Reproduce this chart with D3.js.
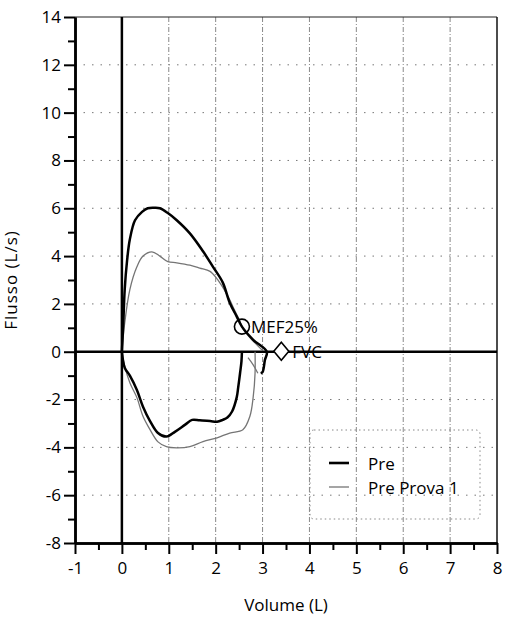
<!DOCTYPE html>
<html>
<head>
<meta charset="utf-8">
<script src="https://cdn.jsdelivr.net/npm/d3@7"></script>
<style>
  body { margin: 0; background: #fff; }
  svg { font-family: "Open Sans", "DejaVu Sans", sans-serif; }
</style>
</head>
<body>
<svg id="chart" width="505" height="619"></svg>
<script>
// tick values
const xMajor = [-1, 0, 1, 2, 3, 4, 5, 6, 7, 8];
const xMinor = [-0.5, 0.5, 1.5, 2.5, 3.5, 4.5, 5.5, 6.5, 7.5];
const yMajor = [-8, -6, -4, -2, 0, 2, 4, 6, 8, 10, 12, 14];
const yMinor = [-7, -5, -3, -1, 1, 3, 5, 7, 9, 11, 13];

// Pre: [volume, flusso]
const preExp = [
  [0, 0], [0.03, 1.2], [0.06, 2.6], [0.11, 3.8], [0.17, 4.7], [0.28, 5.5], [0.43, 5.85],
  [0.55, 6.0], [0.7, 6.02], [0.81, 6.0], [0.98, 5.8], [1.17, 5.5], [1.45, 4.95],
  [1.73, 4.2], [1.94, 3.56], [2.15, 2.9], [2.3, 2.05], [2.45, 1.47], [2.56, 1.05],
  [2.8, 0.5], [3.09, 0.0], [3.05, -0.35], [3.0, -0.85], [2.96, -0.9]
];
const preInsp = [
  [2.56, 0], [2.55, -0.4], [2.52, -0.9], [2.48, -1.5], [2.45, -1.9], [2.35, -2.5],
  [2.25, -2.75], [2.15, -2.85], [2.03, -2.93], [1.88, -2.9], [1.66, -2.87], [1.5, -2.85],
  [1.35, -3.05], [1.13, -3.35], [0.95, -3.55], [0.77, -3.4], [0.6, -2.9], [0.45, -2.3],
  [0.32, -1.6], [0.17, -1.0], [0.06, -0.67], [0, 0]
];

// Pre Prova 1
const provaExp = [
  [0, 0], [0.06, 1.2], [0.17, 2.6], [0.32, 3.55], [0.45, 4.0], [0.64, 4.18], [0.81, 4.0],
  [0.98, 3.77], [1.17, 3.72], [1.45, 3.62], [1.66, 3.5], [1.88, 3.36], [2.03, 3.05],
  [2.15, 2.7], [2.3, 2.17], [2.4, 1.75], [2.5, 1.35], [2.6, 0.9], [2.8, 0.45], [3.0, 0.05]
];
const provaInsp = [
  [2.84, 0], [2.84, -0.9], [2.8, -1.9], [2.73, -2.7], [2.58, -3.26], [2.3, -3.4],
  [2.03, -3.6], [1.73, -3.76], [1.45, -3.97], [1.17, -4.02], [0.95, -3.97], [0.77, -3.77],
  [0.6, -3.26], [0.45, -2.7], [0.32, -1.92], [0.17, -1.3], [0.06, -0.6], [0, 0]
];
const provaHook = [[2.69, -0.25], [2.8, -0.55], [2.9, -0.9]];

const mef25 = [2.56, 1.05];
const fvc = [3.4, 0.02];

const svg = d3.select("#chart");
const pLeft = 75, pRight = 497, pTop = 17, pBottom = 543;

const x = d3.scaleLinear().domain([-1, 8]).range([pLeft, pRight]);
const y = d3.scaleLinear().domain([-8, 14]).range([pBottom, pTop]);

// griglia
svg.append("g").selectAll("line")
  .data(xMajor.filter(d => d > 0 && d < 8))
  .enter().append("line")
  .attr("x1", d => x(d)).attr("x2", d => x(d))
  .attr("y1", pTop).attr("y2", pBottom)
  .attr("stroke", "#888").attr("stroke-width", 1)
  .attr("stroke-dasharray", "5,2,1,2");

svg.append("g").selectAll("line")
  .data(yMajor.filter(d => d !== 0 && d > -8 && d < 14))
  .enter().append("line")
  .attr("x1", pLeft).attr("x2", pRight)
  .attr("y1", d => y(d)).attr("y2", d => y(d))
  .attr("stroke", "#777").attr("stroke-width", 1)
  .attr("stroke-dasharray", "1.5,7");

// bordo superiore e destro
svg.append("line").attr("x1", pLeft).attr("x2", pRight).attr("y1", pTop).attr("y2", pTop)
  .attr("stroke", "#222").attr("stroke-width", 1.2);
svg.append("line").attr("x1", pRight).attr("x2", pRight).attr("y1", pTop).attr("y2", pBottom)
  .attr("stroke", "#111").attr("stroke-width", 1.5);

// linee dello zero
svg.append("line").attr("x1", x(0)).attr("x2", x(0)).attr("y1", pTop).attr("y2", pBottom)
  .attr("stroke", "#000").attr("stroke-width", 2.5);
svg.append("line").attr("x1", pLeft).attr("x2", pRight).attr("y1", y(0)).attr("y2", y(0))
  .attr("stroke", "#000").attr("stroke-width", 2.5);

// assi
const fmt = d => String(d);
svg.append("g").attr("transform", `translate(${pLeft},0)`)
  .call(d3.axisLeft(y).tickValues(yMajor).tickSize(11).tickSizeOuter(0).tickPadding(3).tickFormat(fmt));
svg.append("g").attr("transform", `translate(${pLeft},0)`)
  .call(d3.axisLeft(y).tickValues(yMinor).tickSize(7).tickSizeOuter(0).tickFormat(""));
svg.append("g").attr("transform", `translate(0,${pBottom})`)
  .call(d3.axisBottom(x).tickValues(xMajor).tickSize(11).tickSizeOuter(0).tickPadding(8).tickFormat(fmt));
svg.append("g").attr("transform", `translate(0,${pBottom})`)
  .call(d3.axisBottom(x).tickValues(xMinor).tickSize(7).tickSizeOuter(0).tickFormat(""));

svg.selectAll(".domain").attr("stroke", "#000").attr("stroke-width", 2.5);
svg.selectAll(".tick line").attr("stroke", "#000").attr("stroke-width", 2);
svg.selectAll(".tick text").attr("fill", "#000").style("font-size", "17px")
  .style("font-family", "'Open Sans', sans-serif");

// titoli assi
svg.append("text").attr("x", (pLeft + pRight) / 2).attr("y", 611)
  .attr("text-anchor", "middle").style("font-size", "17px").text("Volume (L)");
svg.append("text")
  .attr("transform", `translate(17,${(pTop + pBottom) / 2}) rotate(-90)`)
  .attr("text-anchor", "middle").style("font-size", "17px")
  .style("letter-spacing", "1px").text("Flusso (L/s)");

// curve
const line = d3.line().x(d => x(d[0])).y(d => y(d[1])).curve(d3.curveCatmullRom.alpha(0.5));

[provaExp, provaInsp, provaHook].forEach(s => {
  svg.append("path").datum(s).attr("d", line)
    .attr("fill", "none").attr("stroke", "#757575").attr("stroke-width", 1.3);
});
[preExp, preInsp].forEach(s => {
  svg.append("path").datum(s).attr("d", line)
    .attr("fill", "none").attr("stroke", "#000").attr("stroke-width", 2.5);
});

// marcatori
svg.append("circle").attr("cx", x(mef25[0])).attr("cy", y(mef25[1])).attr("r", 7.5)
  .attr("fill", "none").attr("stroke", "#000").attr("stroke-width", 1.6);
svg.append("text").attr("x", x(mef25[0]) + 9).attr("y", y(mef25[1]) + 6.5)
  .style("font-size", "17px").text("MEF25%");

const dx = 7.5, dy = 9;
const fx = x(fvc[0]), fy = y(fvc[1]);
svg.append("path")
  .attr("d", `M${fx - dx},${fy}L${fx},${fy - dy}L${fx + dx},${fy}L${fx},${fy + dy}Z`)
  .attr("fill", "#fff").attr("stroke", "#000").attr("stroke-width", 1.6);
svg.append("text").attr("x", fx + 11).attr("y", fy + 6.5)
  .style("font-size", "17px").text("FVC");

// legenda
const legend = svg.append("g");
legend.append("rect").attr("x", 310).attr("y", 430).attr("width", 170).attr("height", 89)
  .attr("rx", 4).attr("fill", "none")
  .attr("stroke", "#888").attr("stroke-dasharray", "1.5,3");
const legendItems = [
  { name: "Pre", color: "#000", width: 2.6 },
  { name: "Pre Prova 1", color: "#757575", width: 1.3 }
];
legendItems.forEach((d, i) => {
  const ly = 463 + i * 24;
  legend.append("line").attr("x1", 329).attr("x2", 349).attr("y1", ly).attr("y2", ly)
    .attr("stroke", d.color).attr("stroke-width", d.width);
  legend.append("text").attr("x", 368).attr("y", ly + 6.5)
    .style("font-size", "17px").text(d.name);
});
</script>
</body>
</html>
